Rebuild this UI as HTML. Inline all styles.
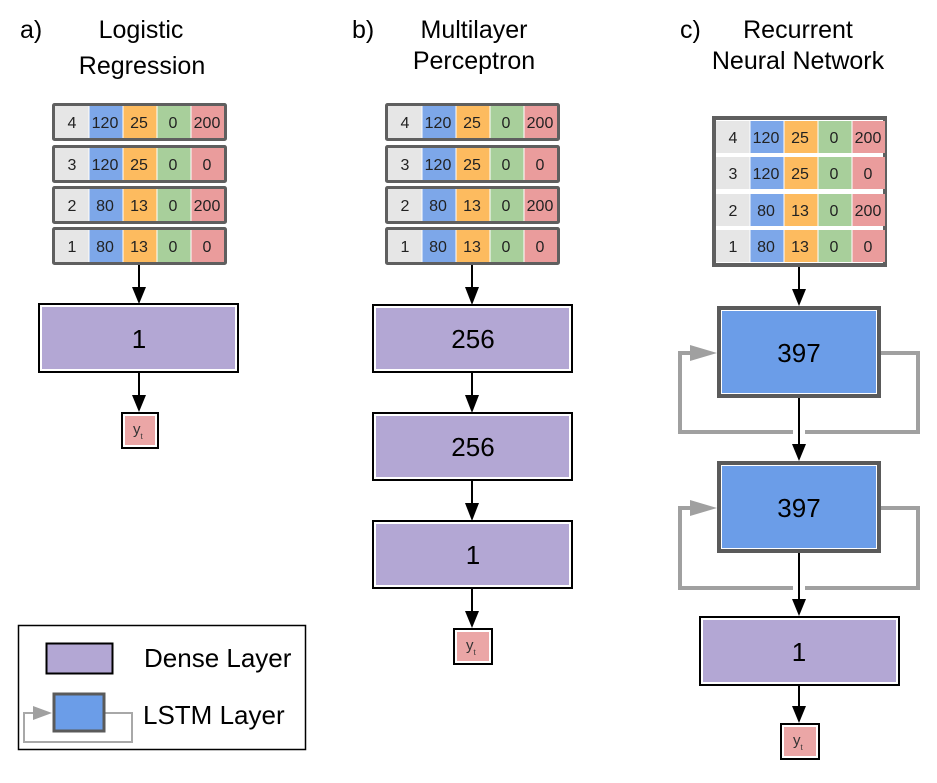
<!DOCTYPE html>
<html><head><meta charset="utf-8"><style>
html,body{margin:0;padding:0;background:#fff;}
svg{display:block;}
text{font-family:"Liberation Sans",sans-serif;fill:#000;}
.c{font-size:16px;text-anchor:middle;fill:#222;}
.t{font-size:25px;}
.n{font-size:26px;text-anchor:middle;}
</style></head><body>
<svg width="937" height="783" viewBox="0 0 937 783" xmlns="http://www.w3.org/2000/svg">
<defs>
<g id="cells">
<rect x="0" y="0" width="34" height="32" fill="#e6e6e6"/>
<rect x="34" y="0" width="34" height="32" fill="#7da7e9"/>
<rect x="68" y="0" width="34" height="32" fill="#fdbb5f"/>
<rect x="102" y="0" width="34" height="32" fill="#a8cf9b"/>
<rect x="136" y="0" width="33" height="32" fill="#ea9c9c"/>
<path d="M34 0V32M68 0V32M102 0V32M136 0V32" stroke="#fff" stroke-width="1"/>
</g>
</defs>

<!-- titles -->
<text class="t" x="20" y="38">a)</text>
<text class="t" x="141" y="38" text-anchor="middle">Logistic</text>
<text class="t" x="142" y="74" text-anchor="middle">Regression</text>
<text class="t" x="352" y="38">b)</text>
<text class="t" x="474" y="38" text-anchor="middle">Multilayer</text>
<text class="t" x="474" y="69" text-anchor="middle">Perceptron</text>
<text class="t" x="680" y="38">c)</text>
<text class="t" x="798" y="38" text-anchor="middle">Recurrent</text>
<text class="t" x="798" y="69" text-anchor="middle">Neural Network</text>

<!-- panel a rows -->
<g>
<rect x="53.5" y="104.5" width="172" height="35" fill="#fff" stroke="#5f5f5f" stroke-width="3" rx="1"/>
<use href="#cells" x="55" y="106"/>
<rect x="53.5" y="146.5" width="172" height="35" fill="#fff" stroke="#5f5f5f" stroke-width="3" rx="1"/>
<use href="#cells" x="55" y="148"/>
<rect x="53.5" y="187.5" width="172" height="35" fill="#fff" stroke="#5f5f5f" stroke-width="3" rx="1"/>
<use href="#cells" x="55" y="189"/>
<rect x="53.5" y="228.5" width="172" height="35" fill="#fff" stroke="#5f5f5f" stroke-width="3" rx="1"/>
<use href="#cells" x="55" y="230"/>
<text class="c" x="72" y="128">4</text><text class="c" x="105" y="128">120</text><text class="c" x="139" y="128">25</text><text class="c" x="173" y="128">0</text><text class="c" x="207" y="128">200</text>
<text class="c" x="72" y="170">3</text><text class="c" x="105" y="170">120</text><text class="c" x="139" y="170">25</text><text class="c" x="173" y="170">0</text><text class="c" x="207" y="170">0</text>
<text class="c" x="72" y="211">2</text><text class="c" x="105" y="211">80</text><text class="c" x="139" y="211">13</text><text class="c" x="173" y="211">0</text><text class="c" x="207" y="211">200</text>
<text class="c" x="72" y="252">1</text><text class="c" x="105" y="252">80</text><text class="c" x="139" y="252">13</text><text class="c" x="173" y="252">0</text><text class="c" x="207" y="252">0</text>
</g>
<!-- panel b rows -->
<g transform="translate(333,0)">
<rect x="53.5" y="104.5" width="172" height="35" fill="#fff" stroke="#5f5f5f" stroke-width="3" rx="1"/>
<use href="#cells" x="55" y="106"/>
<rect x="53.5" y="146.5" width="172" height="35" fill="#fff" stroke="#5f5f5f" stroke-width="3" rx="1"/>
<use href="#cells" x="55" y="148"/>
<rect x="53.5" y="187.5" width="172" height="35" fill="#fff" stroke="#5f5f5f" stroke-width="3" rx="1"/>
<use href="#cells" x="55" y="189"/>
<rect x="53.5" y="228.5" width="172" height="35" fill="#fff" stroke="#5f5f5f" stroke-width="3" rx="1"/>
<use href="#cells" x="55" y="230"/>
<text class="c" x="72" y="128">4</text><text class="c" x="105" y="128">120</text><text class="c" x="139" y="128">25</text><text class="c" x="173" y="128">0</text><text class="c" x="207" y="128">200</text>
<text class="c" x="72" y="170">3</text><text class="c" x="105" y="170">120</text><text class="c" x="139" y="170">25</text><text class="c" x="173" y="170">0</text><text class="c" x="207" y="170">0</text>
<text class="c" x="72" y="211">2</text><text class="c" x="105" y="211">80</text><text class="c" x="139" y="211">13</text><text class="c" x="173" y="211">0</text><text class="c" x="207" y="211">200</text>
<text class="c" x="72" y="252">1</text><text class="c" x="105" y="252">80</text><text class="c" x="139" y="252">13</text><text class="c" x="173" y="252">0</text><text class="c" x="207" y="252">0</text>
</g>
<!-- panel c table -->
<rect x="714" y="118" width="171" height="147" fill="#fff" stroke="#5f5f5f" stroke-width="4"/>
<use href="#cells" x="716" y="121"/>
<use href="#cells" x="716" y="157"/>
<use href="#cells" x="716" y="194"/>
<use href="#cells" x="716" y="230"/>
<text class="c" x="733" y="143">4</text><text class="c" x="766" y="143">120</text><text class="c" x="800" y="143">25</text><text class="c" x="834" y="143">0</text><text class="c" x="868" y="143">200</text>
<text class="c" x="733" y="179">3</text><text class="c" x="766" y="179">120</text><text class="c" x="800" y="179">25</text><text class="c" x="834" y="179">0</text><text class="c" x="868" y="179">0</text>
<text class="c" x="733" y="216">2</text><text class="c" x="766" y="216">80</text><text class="c" x="800" y="216">13</text><text class="c" x="834" y="216">0</text><text class="c" x="868" y="216">200</text>
<text class="c" x="733" y="252">1</text><text class="c" x="766" y="252">80</text><text class="c" x="800" y="252">13</text><text class="c" x="834" y="252">0</text><text class="c" x="868" y="252">0</text>

<!-- dense boxes -->
<g stroke="#000" stroke-width="2" fill="#fff">
<rect x="39" y="304" width="199" height="68"/>
<rect x="373" y="305" width="199" height="67"/>
<rect x="373" y="413" width="199" height="67"/>
<rect x="373" y="521" width="199" height="67"/>
<rect x="700" y="617" width="199" height="68"/>
</g>
<g fill="#b3a7d4">
<rect x="42" y="307" width="193" height="62"/>
<rect x="376" y="308" width="193" height="61"/>
<rect x="376" y="416" width="193" height="61"/>
<rect x="376" y="524" width="193" height="61"/>
<rect x="703" y="620" width="193" height="62"/>
</g>
<text class="n" x="139" y="348">1</text>
<text class="n" x="473" y="348">256</text>
<text class="n" x="473" y="456">256</text>
<text class="n" x="473" y="564">1</text>
<text class="n" x="799" y="661">1</text>

<!-- feedback loops -->
<g fill="none" stroke="#a0a0a0" stroke-width="4">
<path d="M881 353H918V432H680V353H695"/>
<path d="M881 508H918V588H680V508H695"/>
</g>
<g fill="#a0a0a0">
<polygon points="690,345 717,353 690,361"/>
<polygon points="690,500 717,508 690,516"/>
</g>
<rect x="793" y="428" width="12" height="8" fill="#fff"/>
<rect x="793" y="584" width="12" height="8" fill="#fff"/>

<!-- LSTM boxes -->
<rect x="719" y="308" width="160" height="88" fill="#fff" stroke="#5a5a5a" stroke-width="4"/>
<rect x="722" y="311" width="154" height="82" fill="#6b9de8"/>
<rect x="719" y="463" width="160" height="88" fill="#fff" stroke="#5a5a5a" stroke-width="4"/>
<rect x="722" y="466" width="154" height="82" fill="#6b9de8"/>
<text class="n" x="799" y="362">397</text>
<text class="n" x="799" y="517">397</text>

<!-- black arrows -->
<g stroke="#000" stroke-width="2">
<line x1="139" y1="265" x2="139" y2="290"/>
<line x1="139" y1="373" x2="139" y2="398"/>
<line x1="472" y1="265" x2="472" y2="290"/>
<line x1="472" y1="373" x2="472" y2="398"/>
<line x1="472" y1="481" x2="472" y2="506"/>
<line x1="472" y1="589" x2="472" y2="614"/>
<line x1="799" y1="267" x2="799" y2="292"/>
<line x1="799" y1="398" x2="799" y2="447"/>
<line x1="799" y1="553" x2="799" y2="602"/>
<line x1="799" y1="686" x2="799" y2="709"/>
</g>
<g fill="#000">
<polygon points="132,287 146,287 139,304"/>
<polygon points="132,395 146,395 139,412"/>
<polygon points="465,287 479,287 472,305"/>
<polygon points="465,395 479,395 472,413"/>
<polygon points="465,503 479,503 472,521"/>
<polygon points="465,611 479,611 472,628"/>
<polygon points="792,289 806,289 799,306"/>
<polygon points="792,444 806,444 799,461"/>
<polygon points="792,599 806,599 799,616"/>
<polygon points="792,706 806,706 799,723"/>
</g>

<!-- y_t boxes -->
<g stroke="#000" stroke-width="2" fill="#fff">
<rect x="122" y="413" width="36" height="35"/>
<rect x="454" y="629" width="38" height="35"/>
<rect x="781" y="724" width="38" height="35"/>
</g>
<g fill="#eba6a6">
<rect x="125" y="416" width="30" height="29"/>
<rect x="457" y="632" width="32" height="29"/>
<rect x="784" y="727" width="32" height="29"/>
</g>
<text x="133" y="434" style="font-size:15px;fill:#333">y<tspan style="font-size:8px" dy="5">t</tspan></text>
<text x="466" y="650" style="font-size:15px;fill:#333">y<tspan style="font-size:8px" dy="5">t</tspan></text>
<text x="793" y="745" style="font-size:15px;fill:#333">y<tspan style="font-size:8px" dy="5">t</tspan></text>

<!-- legend -->
<rect x="18.5" y="625.5" width="287" height="124" fill="#fff" stroke="#000" stroke-width="1.5"/>
<rect x="46.5" y="643.5" width="66" height="30" fill="#b3a7d4" stroke="#000" stroke-width="2"/>
<text x="144" y="667" style="font-size:26px">Dense Layer</text>
<path d="M104 713H132V742H24V713H34" fill="none" stroke="#a8a8a8" stroke-width="2"/>
<polygon points="33,706 52,713 33,720" fill="#a0a0a0"/>
<rect x="54" y="694" width="50" height="37" fill="#6b9de8" stroke="#5a5a5a" stroke-width="3"/>
<text x="143" y="724" style="font-size:26px">LSTM Layer</text>
</svg>
</body></html>
